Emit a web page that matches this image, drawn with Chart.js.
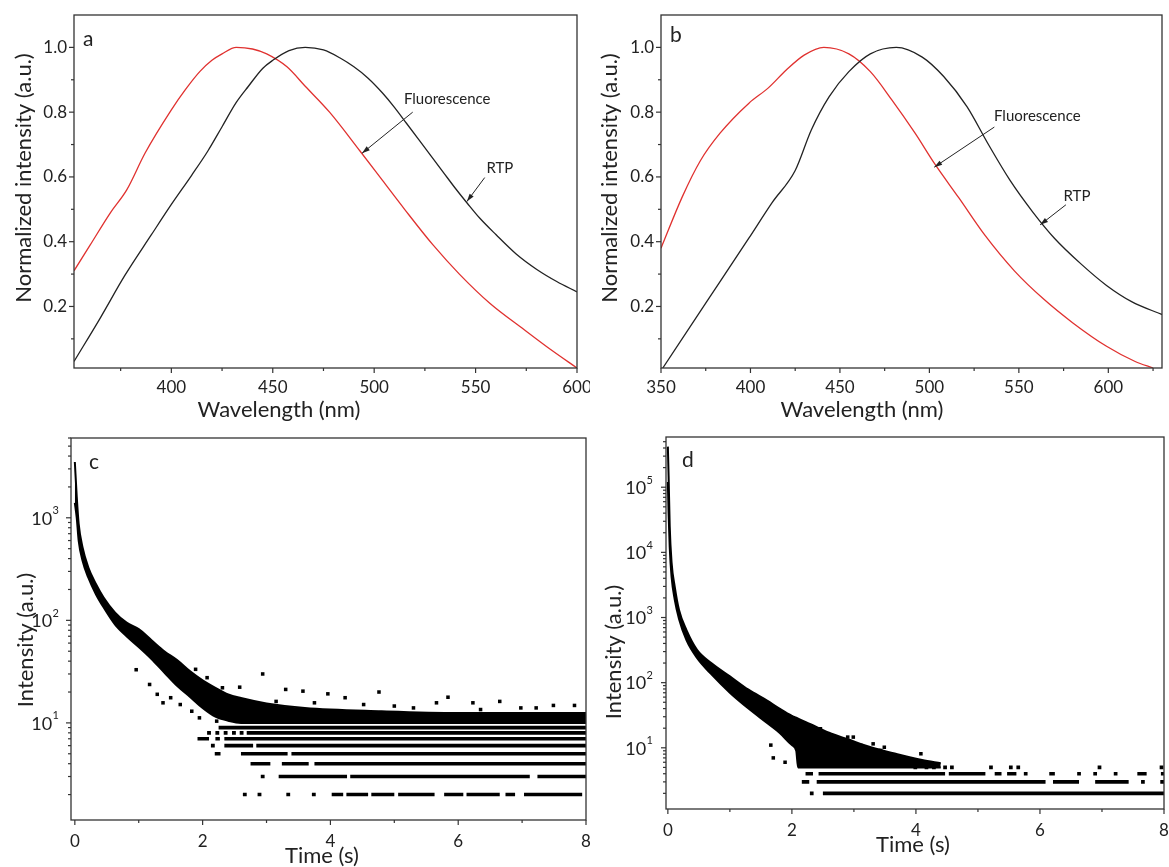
<!DOCTYPE html>
<html lang="en">
<head>
<meta charset="UTF-8">
<title>Fluorescence / RTP spectra and decay curves</title>
<script src="https://cdn.jsdelivr.net/npm/chart.js"></script>
<style>
  body { margin: 0; background: #fff; }
  canvas { position: absolute; }
</style>
</head>
<body>
<canvas id="chartA" width="590" height="430" style="left:0;top:0"></canvas>
<canvas id="chartB" width="579" height="430" style="left:590px;top:0"></canvas>
<canvas id="chartC" width="600" height="437" style="left:0;top:430px"></canvas>
<canvas id="chartD" width="569" height="437" style="left:600px;top:430px"></canvas>

<script>
// ---- panel a : normalized spectra ----
const aRtpX = [352, 365, 377, 390, 400, 410, 418, 425, 432, 438, 445, 450, 458, 466, 475, 483, 490, 497, 504, 510, 516, 522, 528, 534, 540, 546, 552, 560, 570, 580, 590, 600];
const aRtpY = [0.03, 0.165, 0.295, 0.42, 0.515, 0.605, 0.68, 0.755, 0.83, 0.88, 0.935, 0.96, 0.99, 1.0, 0.992, 0.968, 0.94, 0.905, 0.86, 0.815, 0.765, 0.715, 0.665, 0.615, 0.565, 0.518, 0.473, 0.422, 0.362, 0.315, 0.277, 0.245];
const aFlX = [352, 360, 370, 378, 387, 400, 407, 414, 420, 425, 432, 440, 447, 457, 466, 478, 493, 504, 515, 529, 542, 557, 574, 587, 600];
const aFlY = [0.31, 0.39, 0.49, 0.56, 0.673, 0.807, 0.87, 0.925, 0.96, 0.98, 1.0, 0.995, 0.98, 0.94, 0.88, 0.80, 0.68, 0.59, 0.50, 0.39, 0.30, 0.21, 0.128, 0.067, 0.01];

// ---- panel b : normalized spectra ----
const bRtpX = [351, 375, 399, 412, 425, 434, 444, 455, 467, 481.5, 496, 508, 521, 533, 545, 558, 570, 585, 599, 613, 630];
const bRtpY = [0.01, 0.21, 0.41, 0.52, 0.62, 0.745, 0.848, 0.925, 0.98, 1.0, 0.97, 0.91, 0.817, 0.70, 0.59, 0.49, 0.41, 0.33, 0.265, 0.215, 0.175];
const bFlX = [350, 362, 372, 383, 399, 410, 420, 430, 441, 455, 467, 479, 492, 503, 516.5, 531, 547.5, 564, 580, 599, 615, 625];
const bFlY = [0.38, 0.54, 0.65, 0.735, 0.827, 0.875, 0.93, 0.976, 1.0, 0.98, 0.925, 0.838, 0.735, 0.64, 0.535, 0.42, 0.31, 0.222, 0.15, 0.077, 0.03, 0.01];

const specXTicksA = [400, 450, 500, 550, 600];
const specXMinorA = [375, 425, 475, 525, 575];
const specXTicksB = [350, 400, 450, 500, 550, 600];
const specXMinorB = [375, 425, 475, 525, 575, 625];
const specYTicks = [0.2, 0.4, 0.6, 0.8, 1.0];
const specYMinor = [0.1, 0.3, 0.5, 0.7, 0.9];

// ---- panel c : decay (dense band edges, stray points, count rows) ----
const cBandT  = [0.0, 0.03, 0.06, 0.12, 0.21, 0.33, 0.45, 0.63, 0.81, 1.0, 1.2, 1.4, 1.6, 1.8, 2.0, 2.2, 2.4, 2.6, 3.0, 3.6, 4.8, 6.0, 8.0];
const cBandHi = [3500, 1600, 875, 516, 329, 226, 167, 119, 95, 82, 64, 50, 41, 32, 26, 22, 19, 17.5, 15.5, 14, 13, 12.5, 12.5];
const cBandLo = [1400, 1000, 600, 383, 262, 180, 134, 91, 70, 55, 42, 31, 23, 18, 14, 11.5, 10.5, 10, 10, 10, 10, 10, 10];
const cDotT = [0.96, 1.17, 1.29, 1.38, 1.5, 1.65, 1.83, 1.89, 1.95, 2.07, 2.22, 2.31, 2.58, 2.94, 3.15, 3.3, 3.57, 3.75, 3.96, 4.23, 4.52, 4.76, 5.0, 5.3, 5.66, 5.84, 6.23, 6.35, 6.65, 6.98, 7.22, 7.49, 7.82];
const cDotY = [33, 23.7, 19, 15.7, 17.6, 15.1, 13, 33.3, 11.2, 27.6, 10.4, 22, 22.3, 30, 16.2, 21.2, 20.4, 15.7, 19.2, 17.6, 15.1, 20, 14.6, 14, 15.7, 17.8, 15.7, 13.5, 16.2, 14, 14, 14.8, 14.8];
const cRow2 = [[2.63, 2.69], [2.86, 2.92], [3.31, 3.37], [3.71, 3.77], [4.02, 4.2], [4.25, 4.59], [4.64, 5.0], [5.06, 5.63], [5.78, 6.08], [6.13, 6.65], [6.74, 6.89], [7.03, 7.94]];
const cRow3 = [[2.91, 2.97], [3.19, 4.26], [4.31, 7.12], [7.24, 8.0]];
const cRow4 = [[2.75, 3.06], [3.24, 3.66], [3.75, 8.0]];
const cRow5 = [[2.19, 2.28], [2.6, 3.33], [3.39, 8.0]];
const cRow6 = [[2.13, 2.19], [2.34, 2.79], [2.84, 8.0]];
const cRow7 = [[1.92, 2.1], [2.2, 2.27], [2.34, 8.0]];
const cRow8 = [[2.07, 2.13], [2.2, 2.26], [2.33, 2.39], [2.46, 2.52], [2.58, 2.64], [2.69, 8.0]];
const cRow9 = [[2.25, 8.0]];
const cRowLevels = [2, 3, 4, 5, 6, 7, 8, 9];
const cRows = [cRow2, cRow3, cRow4, cRow5, cRow6, cRow7, cRow8, cRow9];

// ---- panel d : decay ----
const dBandT  = [0.0, 0.012, 0.03, 0.06, 0.11, 0.18, 0.3, 0.47, 0.7, 1.0, 1.3, 1.6, 1.8, 2.0, 2.07, 2.1, 2.3, 2.6, 2.9, 3.3, 3.7, 4.1, 4.4];
const dBandHi = [420000, 150000, 25000, 7000, 3000, 1300, 640, 320, 200, 125, 78, 53, 40, 31, 29, 28, 23, 17, 13.5, 10, 8, 6.5, 5.8];
const dBandLo = [120000, 40000, 12000, 4200, 1900, 950, 450, 240, 135, 70, 40, 24, 17, 11, 9, 5, 5, 5, 5, 5, 5, 5, 5];
const dDotT = [1.33, 1.66, 1.70, 1.89, 1.98, 2.30, 2.46, 2.63, 2.90, 2.99, 3.11, 3.31, 3.43, 3.49, 3.85, 4.08];
const dDotY = [63, 11, 7.0, 6.0, 30, 21.6, 19.6, 15.5, 14.6, 14.6, 10.9, 11.5, 9.1, 10.2, 6.8, 8.1];
const dRow5 = [[3.96, 4.02], [4.14, 4.2], [4.26, 4.32], [4.44, 4.5], [4.55, 4.61], [5.18, 5.24], [5.5, 5.56], [5.62, 5.68], [6.93, 6.99], [7.93, 7.99]];
const dRow4 = [[2.22, 2.34], [2.43, 4.47], [4.53, 5.12], [5.27, 5.38], [5.47, 5.62], [5.74, 5.8], [6.15, 6.24], [6.6, 6.66], [6.86, 6.92], [7.19, 7.25], [7.57, 7.72], [7.95, 8.0]];
const dRow3 = [[2.16, 2.28], [2.40, 6.09], [6.21, 6.63], [6.89, 7.43], [7.63, 7.69], [7.94, 8.0]];
const dRow2 = [[2.29, 2.35], [2.50, 8.0]];
const dRowLevels = [5, 4, 3, 2];
const dRows = [dRow5, dRow4, dRow3, dRow2];

const timeTicks = [0, 2, 4, 6, 8];
const timeMinor = [1, 3, 5, 7];
const cYTicks = [10, 100, 1000];
const cYMinor = [2, 3, 4, 5, 6, 7, 8, 9, 20, 30, 40, 50, 60, 70, 80, 90, 200, 300, 400, 500, 600, 700, 800, 900, 2000, 3000, 4000, 5000, 6000];
const dYTicks = [10, 100, 1000, 10000, 100000];
const dYMinor = [2, 3, 4, 5, 6, 7, 8, 9, 20, 30, 40, 50, 60, 70, 80, 90, 200, 300, 400, 500, 600, 700, 800, 900,
  2000, 3000, 4000, 5000, 6000, 7000, 8000, 9000, 20000, 30000, 40000, 50000, 60000, 70000, 80000, 90000, 200000, 300000, 400000, 500000];

const INK = '#222';
const RED = '#e0312f';
const FONT = 'Lato';

const pts = (xs, ys) => xs.map((x, i) => ({x: x, y: ys[i]}));
const rowPts = (levels, rows) => rows.flatMap((spans, k) =>
  spans.flatMap(([a, b]) => [{x: a, y: levels[k]}, {x: b, y: levels[k]}, {x: b, y: null}]));

// frame, outward ticks, custom labels, titles and arrows
const frameDeco = {
  id: 'frameDeco',
  afterDraw(chart, args, o) {
    const {ctx, chartArea: ca} = chart;
    const sx = chart.scales.x, sy = chart.scales.y;
    const seg = (x1, y1, x2, y2) => { ctx.beginPath(); ctx.moveTo(x1, y1); ctx.lineTo(x2, y2); ctx.stroke(); };
    ctx.save();
    ctx.strokeStyle = '#333';
    ctx.fillStyle = INK;
    ctx.lineWidth = 1.3;
    ctx.strokeRect(ca.left, ca.top, ca.right - ca.left, ca.bottom - ca.top);
    ctx.lineWidth = 1.2;
    o.xMajor.forEach(v => { const p = sx.getPixelForValue(v); seg(p, ca.bottom, p, ca.bottom + 5); });
    o.xMinor.forEach(v => { const p = sx.getPixelForValue(v); seg(p, ca.bottom, p, ca.bottom + 3); });
    o.yMajor.forEach(v => { const p = sy.getPixelForValue(v); seg(ca.left - 5, p, ca.left, p); });
    o.yMinor.forEach(v => { const p = sy.getPixelForValue(v); if (p >= ca.top - 1) seg(ca.left - 3, p, ca.left, p); });

    // 10^n labels for the log axes
    if (o.powerLabels) {
      o.yMajor.forEach(v => {
        const p = sy.getPixelForValue(v);
        const e = String(Math.round(Math.log10(v)));
        ctx.textAlign = 'right';
        ctx.textBaseline = 'middle';
        ctx.font = '11px ' + FONT;
        const xr = ca.left - o.powerGap;
        ctx.fillText(e, xr, p - 7);
        const w = ctx.measureText(e).width;
        ctx.font = '18px ' + FONT;
        ctx.fillText('10', xr - w - 0.5, p + 1);
      });
    }

    // panel letter
    ctx.font = '21px ' + FONT;
    ctx.textAlign = 'left';
    ctx.textBaseline = 'alphabetic';
    ctx.fillText(o.letter, ca.left + o.letterPos[0], ca.top + o.letterPos[1]);

    // axis titles
    ctx.font = '22px ' + FONT;
    ctx.textAlign = 'center';
    ctx.textBaseline = 'middle';
    ctx.fillText(o.xTitle, o.xTitlePos[0], o.xTitlePos[1]);
    ctx.save();
    ctx.translate(o.yTitlePos[0], o.yTitlePos[1]);
    ctx.rotate(-Math.PI / 2);
    ctx.fillText(o.yTitle, 0, 0);
    ctx.restore();

    // labelled arrows
    (o.notes || []).forEach(n => {
      ctx.font = '15px ' + FONT;
      ctx.fillText(n.text, sx.getPixelForValue(n.at[0]), sy.getPixelForValue(n.at[1]));
      const x1 = sx.getPixelForValue(n.from[0]), y1 = sy.getPixelForValue(n.from[1]);
      const x2 = sx.getPixelForValue(n.to[0]), y2 = sy.getPixelForValue(n.to[1]);
      ctx.lineWidth = 1;
      ctx.strokeStyle = INK;
      seg(x1, y1, x2, y2);
      const ang = Math.atan2(y2 - y1, x2 - x1);
      const c = Math.cos(ang), s = Math.sin(ang);
      ctx.beginPath();
      ctx.moveTo(x2, y2);
      ctx.lineTo(x2 - 8 * c + 2.5 * s, y2 - 8 * s - 2.5 * c);
      ctx.lineTo(x2 - 8 * c - 2.5 * s, y2 - 8 * s + 2.5 * c);
      ctx.closePath();
      ctx.fill();
    });
    ctx.restore();
  }
};

function makePanel(id, p) {
  const canvas = document.getElementById(id);
  const W = canvas.width, H = canvas.height;
  const area = p.area;
  const tickFont = {family: FONT, size: 17};
  return new Chart(canvas, {
    type: 'line',
    data: {datasets: p.datasets},
    options: {
      responsive: false,
      animation: false,
      devicePixelRatio: 1,
      layout: {padding: {left: 0, top: area.top, right: W - area.right, bottom: 0}},
      plugins: {legend: {display: false}, tooltip: {enabled: false}, frameDeco: p.deco},
      elements: {point: {radius: 0}, line: {tension: 0}},
      scales: {
        x: {
          type: 'linear', min: p.xMin, max: p.xMax,
          grid: {display: false, drawTicks: false}, border: {display: false},
          afterBuildTicks: s => { s.ticks = p.xTicks.map(v => ({value: v})); },
          afterFit: s => { s.height = H - area.bottom; s.paddingLeft = 0; s.paddingRight = 0; },
          ticks: {padding: p.xPad, autoSkip: false, maxRotation: 0, color: INK, font: tickFont, callback: v => String(v)}
        },
        y: {
          type: p.yType, min: p.yMin, max: p.yMax,
          grid: {display: false, drawTicks: false}, border: {display: false},
          afterBuildTicks: s => { s.ticks = p.yTicks.map(v => ({value: v})); },
          afterFit: s => { s.width = area.left; s.paddingTop = 0; s.paddingBottom = 0; },
          ticks: {display: p.yLabels, padding: 7, color: INK, font: tickFont, callback: v => v.toFixed(1)}
        }
      }
    },
    plugins: [frameDeco]
  });
}

const curve = (xs, ys, color) => ({
  data: pts(xs, ys), borderColor: color, borderWidth: 1.3, pointRadius: 0, fill: false,
  cubicInterpolationMode: 'monotone'
});

function decaySets(bt, hi, lo, dt, dy, levels, rows) {
  return [
    {data: pts(bt, hi), borderColor: '#000', backgroundColor: '#000', borderWidth: 2, fill: '+1', pointRadius: 0, cubicInterpolationMode: 'monotone'},
    {data: pts(bt, lo), borderColor: '#000', borderWidth: 2, fill: false, pointRadius: 0, cubicInterpolationMode: 'monotone'},
    {data: pts(dt, dy), showLine: false, pointStyle: 'rect', pointRadius: 2.5, pointBackgroundColor: '#000', pointBorderWidth: 0},
    {data: rowPts(levels, rows), borderColor: '#000', borderWidth: 3.6, borderCapStyle: 'butt', spanGaps: false, pointRadius: 0, fill: false}
  ];
}

makePanel('chartA', {
  area: {left: 74, right: 577, top: 15, bottom: 368},
  xMin: 352, xMax: 600, xTicks: specXTicksA, xPad: 9.5,
  yType: 'linear', yMin: 0.01, yMax: 1.1, yTicks: specYTicks, yLabels: true,
  datasets: [curve(aRtpX, aRtpY, INK), curve(aFlX, aFlY, RED)],
  deco: {
    xMajor: specXTicksA, xMinor: specXMinorA, yMajor: specYTicks, yMinor: specYMinor,
    letter: 'a', letterPos: [9, 31],
    xTitle: 'Wavelength (nm)', xTitlePos: [279, 410],
    yTitle: 'Normalized intensity (a.u.)', yTitlePos: [24, 178],
    notes: [
      {text: 'Fluorescence', at: [536, 0.84], from: [519, 0.80], to: [494, 0.673]},
      {text: 'RTP', at: [562, 0.627], from: [554.5, 0.598], to: [545.7, 0.524]}
    ]
  }
});

makePanel('chartB', {
  area: {left: 71, right: 572, top: 15, bottom: 368},
  xMin: 350, xMax: 630, xTicks: specXTicksB, xPad: 9.5,
  yType: 'linear', yMin: 0.01, yMax: 1.1, yTicks: specYTicks, yLabels: true,
  datasets: [curve(bRtpX, bRtpY, INK), curve(bFlX, bFlY, RED)],
  deco: {
    xMajor: specXTicksB, xMinor: specXMinorB, yMajor: specYTicks, yMinor: specYMinor,
    letter: 'b', letterPos: [9, 27],
    xTitle: 'Wavelength (nm)', xTitlePos: [272, 410],
    yTitle: 'Normalized intensity (a.u.)', yTitlePos: [20, 178],
    notes: [
      {text: 'Fluorescence', at: [560.3, 0.788], from: [536.3, 0.754], to: [502.7, 0.63]},
      {text: 'RTP', at: [582.5, 0.541], from: [576.3, 0.514], to: [561.9, 0.452]}
    ]
  }
});

makePanel('chartC', {
  area: {left: 71, right: 586, top: 8, bottom: 390},
  xMin: -0.06, xMax: 8, xTicks: timeTicks, xPad: 11,
  yType: 'logarithmic', yMin: 1.13, yMax: 6000, yTicks: cYTicks, yLabels: false,
  datasets: decaySets(cBandT, cBandHi, cBandLo, cDotT, cDotY, cRowLevels, cRows),
  deco: {
    xMajor: timeTicks, xMinor: timeMinor, yMajor: cYTicks, yMinor: cYMinor,
    powerLabels: true, powerGap: 12,
    letter: 'c', letterPos: [18, 31],
    xTitle: 'Time (s)', xTitlePos: [322, 426],
    yTitle: 'Intensity (a.u.)', yTitlePos: [26, 210]
  }
});

makePanel('chartD', {
  area: {left: 66, right: 564, top: 7, bottom: 379},
  xMin: -0.03, xMax: 8, xTicks: timeTicks, xPad: 11,
  yType: 'logarithmic', yMin: 1.15, yMax: 590000, yTicks: dYTicks, yLabels: false,
  datasets: decaySets(dBandT, dBandHi, dBandLo, dDotT, dDotY, dRowLevels, dRows),
  deco: {
    xMajor: timeTicks, xMinor: timeMinor, yMajor: dYTicks, yMinor: dYMinor,
    powerLabels: true, powerGap: 13,
    letter: 'd', letterPos: [16, 30],
    xTitle: 'Time (s)', xTitlePos: [313, 415],
    yTitle: 'Intensity (a.u.)', yTitlePos: [14, 222]
  }
});
</script>
</body>
</html>
